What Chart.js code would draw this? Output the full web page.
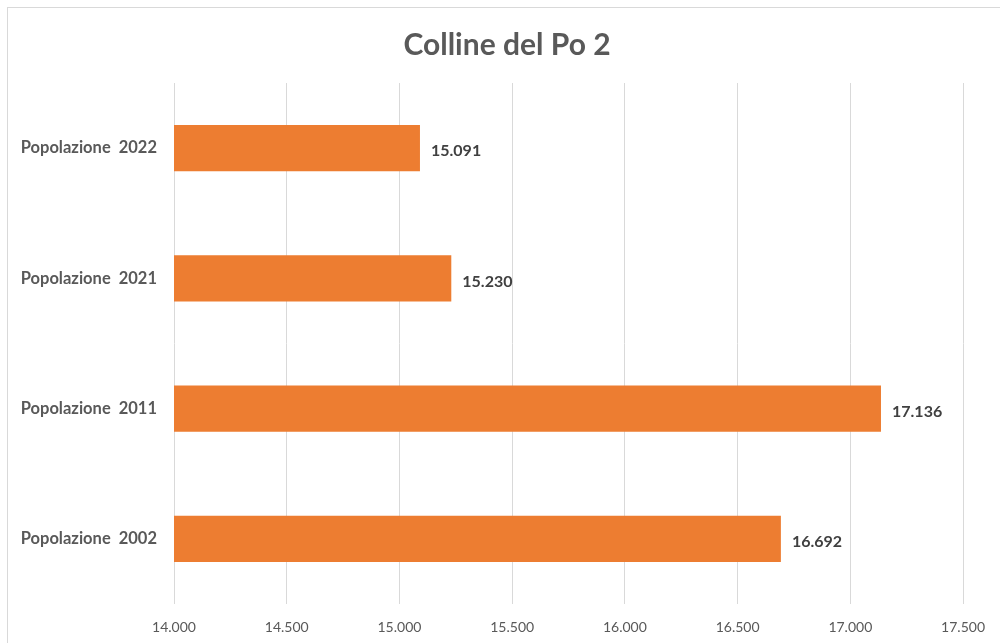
<!DOCTYPE html>
<html>
<head>
<meta charset="utf-8">
<script src="https://cdn.jsdelivr.net/npm/chart.js@4.4.0/dist/chart.umd.min.js"></script>
<style>
  html, body { margin: 0; padding: 0; background: #fff; }
  #wrap { position: relative; width: 1000px; height: 643px; overflow: hidden; }
  #frame { position: absolute; left: 7px; top: 7px; width: 1000px; height: 700px; border: 1px solid #d9d9d9; box-sizing: border-box; }
  canvas { position: absolute; left: 0; top: 0; }
</style>
</head>
<body>
<div id="wrap">
  <div id="frame"></div>
  <canvas id="chart" width="1000" height="643"></canvas>
</div>
<script>
// dati
const categorie = ['Popolazione  2022', 'Popolazione  2021', 'Popolazione  2011', 'Popolazione  2002'];
const popolazione = [15091, 15230, 17136, 16692];
const titolo = 'Colline del Po 2';
const asseMin = 14000;
const asseMax = 17500;
const passo = 500;

const FONT = 'Lato, "Open Sans", "DejaVu Sans", sans-serif';

// 15091 -> "15.091"
const fmtIt = v => String(Math.round(v)).replace(/\B(?=(\d{3})+(?!\d))/g, '.');

// titolo centrato sulla pagina intera (come in Excel), non sull'area del grafico
const titoloPagina = {
  id: 'titoloPagina',
  afterDraw(chart) {
    const { ctx } = chart;
    ctx.save();
    ctx.font = 'bold 30px ' + FONT;
    ctx.fillStyle = '#595959';
    ctx.textAlign = 'center';
    ctx.textBaseline = 'middle';
    ctx.fillText(titolo, 507, 45);
    ctx.restore();
  },
};

// etichette dei valori a destra delle barre
const etichetteValori = {
  id: 'etichetteValori',
  afterDatasetsDraw(chart) {
    const { ctx } = chart;
    const meta = chart.getDatasetMeta(0);
    ctx.save();
    ctx.font = 'bold 16px ' + FONT;
    ctx.fillStyle = '#404040';
    ctx.textAlign = 'left';
    ctx.textBaseline = 'middle';
    meta.data.forEach((bar, i) => {
      ctx.fillText(fmtIt(popolazione[i]), bar.x + 11, bar.y + 3);
    });
    ctx.restore();
  },
};

new Chart(document.getElementById('chart'), {
  type: 'bar',
  data: {
    labels: categorie,
    datasets: [{
      data: popolazione,
      backgroundColor: '#ED7D31',
      borderWidth: 0,
      categoryPercentage: 1,
      barPercentage: 0.354,
    }],
  },
  options: {
    indexAxis: 'y',
    responsive: false,
    animation: false,
    layout: { padding: { left: 0, right: 34, top: 83, bottom: 0 } },
    plugins: {
      legend: { display: false },
      tooltip: { enabled: false },
      title: { display: false },
    },
    scales: {
      x: {
        min: asseMin,
        max: asseMax,
        ticks: {
          stepSize: passo,
          color: '#595959',
          font: { family: FONT, size: 14 },
          padding: 15,
          callback: v => fmtIt(v),
        },
        grid: { color: '#d9d9d9', lineWidth: 1, drawTicks: false },
        border: { display: false },
        afterFit: s => { s.height = 39; },
      },
      y: {
        ticks: {
          color: '#595959',
          font: { family: FONT, size: 16.5, weight: 'bold' },
          padding: 17,
        },
        grid: { display: false, drawTicks: false },
        border: { display: false },
        afterFit: s => { s.width = 174; },
      },
    },
  },
  plugins: [etichetteValori, titoloPagina],
});
</script>
</body>
</html>
